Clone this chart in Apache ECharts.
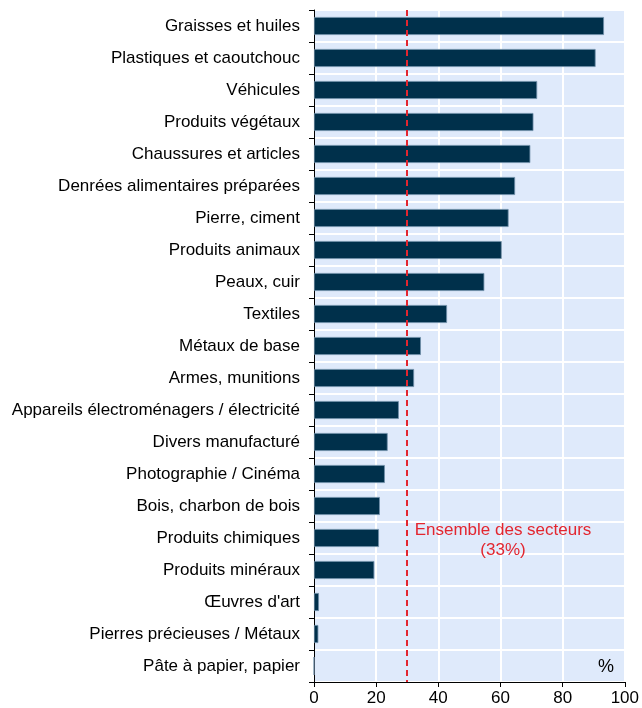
<!DOCTYPE html>
<html><head><meta charset="utf-8">
<script src="https://cdn.jsdelivr.net/npm/echarts@6/dist/echarts.min.js"></script>
<style>html,body{margin:0;padding:0;background:#fff}#c{width:642px;height:708px}</style>
</head><body><div id="c"></div>
<script>
const categories = ["Graisses et huiles","Plastiques et caoutchouc","Véhicules","Produits végétaux","Chaussures et articles","Denrées alimentaires préparées","Pierre, ciment","Produits animaux","Peaux, cuir","Textiles","Métaux de base","Armes, munitions","Appareils électroménagers / électricité","Divers manufacturé","Photographie / Cinéma","Bois, charbon de bois","Produits chimiques","Produits minéraux","Œuvres d'art","Pierres précieuses / Métaux","Pâte à papier, papier"];
const values = [93.3,90.6,71.8,70.6,69.6,64.7,62.6,60.4,54.8,42.8,34.4,32.2,27.3,23.7,22.8,21.2,20.9,19.4,1.6,1.4,0];
const xTicks = [0,20,40,60,80,100];
const averageLine = 30;
const averageLabel = "Ensemble des secteurs\n(33%)";
const unitLabel = "%";

const chart = echarts.init(document.getElementById('c'));
const font = "'Liberation Sans', Arial, sans-serif";
chart.setOption({
  animation:false,
  grid:{left:314,right:14,top:10,bottom:26,show:true,backgroundColor:'#dfeafb',borderWidth:0},
  xAxis:{type:'value',min:xTicks[0],max:xTicks[xTicks.length-1],interval:20,
    axisLine:{show:true,lineStyle:{color:'#000',width:1}},
    axisTick:{show:true,length:5,lineStyle:{color:'#000'}},
    axisLabel:{color:'#000',fontSize:17,fontFamily:font,margin:8},
    splitLine:{show:true,lineStyle:{color:'#fff',width:2}}},
  yAxis:{type:'category',data:categories,inverse:true,
    axisLine:{show:true,lineStyle:{color:'#000',width:1}},
    axisTick:{show:true,length:5,lineStyle:{color:'#000'}},
    axisLabel:{color:'#000',fontSize:17,fontFamily:font,margin:14},
    splitLine:{show:true,lineStyle:{color:'#fff',width:2}}},
  series:[{type:'bar',data:values,barWidth:18,
    itemStyle:{color:'#00304b',borderColor:'#6f8ea8',borderWidth:0.8},
    markLine:{symbol:'none',silent:true,label:{show:false},
      lineStyle:{color:'#e3262f',type:[6,4],width:2},
      data:[{xAxis:averageLine}]}}],
  graphic:[
    {type:'text',x:503,y:520,z:100,style:{text:averageLabel,fill:'#e3262f',font:'17px '+font,textAlign:'center',lineHeight:20}},
    {type:'text',x:606,y:667,z:100,style:{text:unitLabel,fill:'#000',font:'18px '+font,textAlign:'center',textVerticalAlign:'middle'}}
  ]
});
</script></body></html>
